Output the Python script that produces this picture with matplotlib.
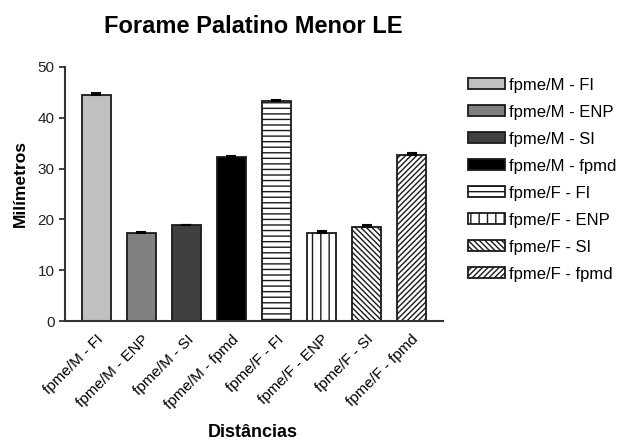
import matplotlib.pyplot as plt

plt.rcParams['font.family'] = ['Liberation Sans', 'DejaVu Sans']
plt.rcParams['hatch.linewidth'] = 1.0

categories = ["fpme/M - FI", "fpme/M - ENP", "fpme/M - SI", "fpme/M - fpmd",
              "fpme/F - FI", "fpme/F - ENP", "fpme/F - SI", "fpme/F - fpmd"]
means = [44.4, 17.4, 18.9, 32.2, 43.2, 17.4, 18.6, 32.7]
errors = [0.4, 0.05, 0.05, 0.25, 0.3, 0.3, 0.3, 0.3]

colors = ["#c0c0c0", "#808080", "#404040", "#000000",
          "white", "white", "white", "white"]
hatches = [None, None, None, None, "---", "||", "\\\\\\\\\\\\", "//////"]

fig = plt.figure(figsize=(6.43, 4.43), dpi=100)
ax = fig.add_axes([0.101, 0.275, 0.588, 0.574])

x = list(range(len(categories)))
bars = []
for i in x:
    b = ax.bar(i, means[i], width=0.66, color=colors[i], edgecolor="#1a1a1a",
               linewidth=1.3, hatch=hatches[i], label=categories[i], zorder=2)
    ax.errorbar(i, means[i], yerr=[[0], [errors[i]]], fmt="none",
                ecolor="black", elinewidth=1.2, capsize=3.5, capthick=1.5,
                zorder=3)
    bars.append(b)

ax.set_xlim(-0.7, 7.7)
ax.set_ylim(0, 50)
ax.set_yticks([0, 10, 20, 30, 40, 50])
ax.set_xticks(x)
ax.set_xticklabels(categories, rotation=45, ha="right", rotation_mode="anchor",
                   fontsize=11)
ax.tick_params(axis="x", length=0, pad=8)
ax.tick_params(axis="y", labelsize=11, width=1.2, length=4, colors="#222222")
for s in ["top", "right"]:
    ax.spines[s].set_visible(False)
for s in ["left", "bottom"]:
    ax.spines[s].set_linewidth(1.5)
    ax.spines[s].set_color("#333333")

ax.set_ylabel("Milímetros", fontsize=12.5, fontweight="bold", va="center")
ax.set_xlabel("Distâncias", fontsize=13, fontweight="bold", va="center")
ax.yaxis.set_label_coords(-0.119, 0.54)
ax.xaxis.set_label_coords(0.497, -0.437)
fig.text(0.394, 0.941, "Forame Palatino Menor LE", fontsize=17,
         fontweight="bold", ha="center", va="center")

fig.legend(handles=bars, labels=categories, loc="upper left",
           bbox_to_anchor=(0.728, 0.825), frameon=False, fontsize=12,
           handlelength=2.2, handleheight=0.66, handletextpad=0.25,
           labelspacing=0.72, borderaxespad=0, borderpad=0)

fig.savefig("out.png", dpi=100)
